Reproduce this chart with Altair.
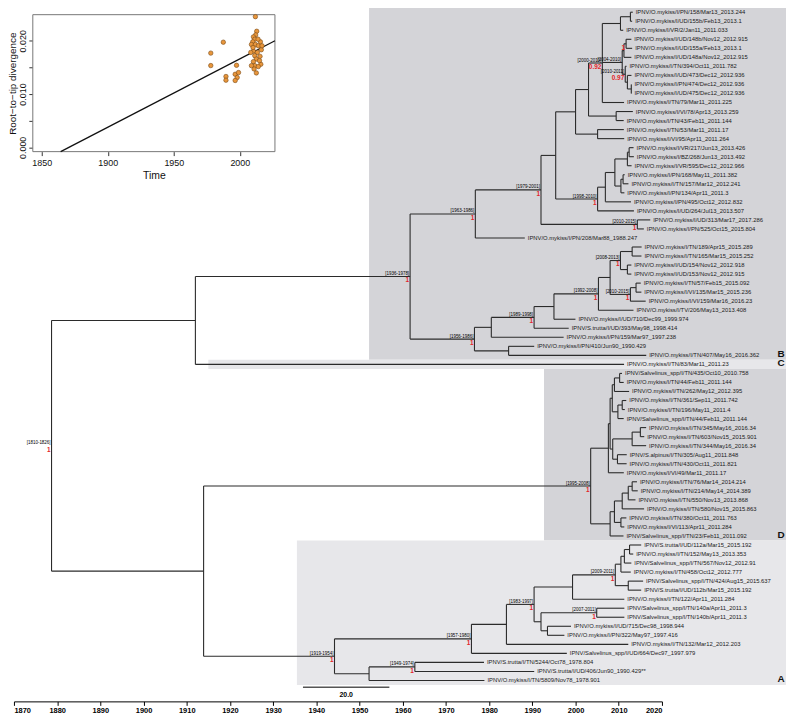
import altair as alt
import pandas as pd

# ------------------------------------------------------------------ data
tip_labels = [
    "IPNV/O.mykiss/I/PN/158/Mar13_2013.244",
    "IPNV/O.mykiss/I/UD/155b/Feb13_2013.1",
    "IPNV/O.mykiss/I/VR/2/Jan11_2011.033",
    "IPNV/O.mykiss/I/UD/148b/Nov12_2012.915",
    "IPNV/O.mykiss/I/UD/155a/Feb13_2013.1",
    "IPNV/O.mykiss/I/UD/148a/Nov12_2012.915",
    "IPNV/O.mykiss/I/TN/394/Oct11_2011.782",
    "IPNV/O.mykiss/I/UD/473/Dec12_2012.936",
    "IPNV/O.mykiss/I/PN/474/Dec12_2012.936",
    "IPNV/O.mykiss/I/UD/475/Dec12_2012.936",
    "IPNV/O.mykiss/I/TN/79/Mar11_2011.225",
    "IPNV/O.mykiss/I/VI/78/Apr13_2013.259",
    "IPNV/O.mykiss/I/TN/43/Feb11_2011.144",
    "IPNV/O.mykiss/I/TN/53/Mar11_2011.17",
    "IPNV/O.mykiss/I/VI/95/Apr11_2011.264",
    "IPNV/O.mykiss/I/VR/217/Jun13_2013.426",
    "IPNV/O.mykiss/I/BZ/268/Jun13_2013.492",
    "IPNV/O.mykiss/I/VR/595/Dec12_2012.966",
    "IPNV/O.mykiss/I/PN/168/May11_2011.382",
    "IPNV/O.mykiss/I/TN/157/Mar12_2012.241",
    "IPNV/O.mykiss/I/PN/134/Apr11_2011.3",
    "IPNV/O.mykiss/I/PN/495/Oct12_2012.832",
    "IPNV/O.mykiss/I/UD/264/Jul13_2013.507",
    "IPNV/O.mykiss/I/UD/313/Mar17_2017.286",
    "IPNV/O.mykiss/I/PN/525/Oct15_2015.804",
    "IPNV/O.mykiss/I/PN/208/Mar88_1988.247",
    "IPNV/O.mykiss/I/TN/189/Apr15_2015.289",
    "IPNV/O.mykiss/I/TN/165/Mar15_2015.252",
    "IPNV/O.mykiss/I/UD/154/Nov12_2012.918",
    "IPNV/O.mykiss/I/UD/153/Nov12_2012.915",
    "IPNV/O.mykiss/I/TN/57/Feb15_2015.092",
    "IPNV/O.mykiss/I/VI/135/Mar15_2015.236",
    "IPNV/O.mykiss/I/VI/159/Mar16_2016.23",
    "IPNV/O.mykiss/I/TV/206/May13_2013.408",
    "IPNV/O.mykiss/I/UD/710/Dec99_1999.974",
    "IPNV/S.trutta/I/UD/393/May98_1998.414",
    "IPNV/O.mykiss/I/PN/159/Mar97_1997.238",
    "IPNV/O.mykiss/I/PN/410/Jun90_1990.429",
    "IPNV/O.mykiss/I/TN/407/May16_2016.362",
    "IPNV/O.mykiss/I/TN/83/Mar11_2011.23",
    "IPNV/Salvelinus_spp/I/TN/435/Oct10_2010.758",
    "IPNV/O.mykiss/I/TN/44/Feb11_2011.144",
    "IPNV/O.mykiss/I/TN/262/May12_2012.395",
    "IPNV/O.mykiss/I/TN/361/Sep11_2011.742",
    "IPNV/O.mykiss/I/TN/196/May11_2011.4",
    "IPNV/Salvelinus_spp/I/TN/44/Feb11_2011.144",
    "IPNV/O.mykiss/I/TN/345/May16_2016.34",
    "IPNV/O.mykiss/I/TN/603/Nov15_2015.901",
    "IPNV/O.mykiss/I/TN/344/May16_2016.34",
    "IPNV/S.alpinus/I/TN/305/Aug11_2011.848",
    "IPNV/O.mykiss/I/TN/430/Oct11_2011.821",
    "IPNV/O.mykiss/I/VI/49/Mar11_2011.17",
    "IPNV/O.mykiss/I/TN/76/Mar14_2014.214",
    "IPNV/O.mykiss/I/TN/214/May14_2014.389",
    "IPNV/O.mykiss/I/TN/550/Nov13_2013.868",
    "IPNV/O.mykiss/I/TN/580/Nov15_2015.863",
    "IPNV/O.mykiss/I/TN/380/Oct11_2011.763",
    "IPNV/O.mykiss/I/VI/113/Apr11_2011.284",
    "IPNV/Salvelinus_spp/I/TN/23/Feb11_2011.092",
    "IPNV/S.trutta/I/UD/112a/Mar15_2015.192",
    "IPNV/O.mykiss/I/TN/152/May13_2013.353",
    "IPNV/Salvelinus_spp/I/TN/567/Nov12_2012.91",
    "IPNV/O.mykiss/I/TN/458/Oct12_2012.777",
    "IPNV/Salvelinus_spp/I/TN/424/Aug15_2015.637",
    "IPNV/S.trutta/I/UD/112b/Mar15_2015.192",
    "IPNV/O.mykiss/I/TN/122/Apr11_2011.284",
    "IPNV/Salvelinus_spp/I/TN/140a/Apr11_2011.3",
    "IPNV/Salvelinus_spp/I/TN/140b/Apr11_2011.3",
    "IPNV/O.mykiss/I/UD/715/Dec98_1998.944",
    "IPNV/O.mykiss/I/PN/322/May97_1997.416",
    "IPNV/O.mykiss/I/TN/132/Mar12_2012.203",
    "IPNV/Salvelinus_spp/I/UD/664/Dec97_1997.979",
    "IPNV/S.trutta/I/TN/5244/Oct78_1978.804",
    "IPNV/S.trutta/I/UD/406/Jun90_1990.429**",
    "IPNV/O.mykiss/I/TN/5809/Nov78_1978.901",
]

# parent node of every tip (same order as tip_labels)
tip_parents = [
    "q12", "q12", "Q", "t45", "t45", "T", "U", "u810", "u910", "u910",
    "P", "w1213", "w1213", "w1415", "w1415",
    "r4", "r4", "r3", "r6", "r6", "r5", "r1", "N98", "N10a", "N10a", "B1",
    "b27", "b27", "b29", "b29", "b31", "b31", "N10b", "N92", "bc", "N89", "ba",
    "bd", "bd", "BC",
    "d41", "d41", "d1b1", "d44", "d44", "d1b2", "d4748", "d4748", "d47",
    "d50", "d50", "D1",
    "d53a", "d53a", "d5354", "d53", "d57", "d57", "D2",
    "a6061", "a6061", "a6062", "a6063", "a6465", "a6465", "A1c",
    "a6768", "a6768", "a6970", "a6970", "A1a", "A1", "N49", "N49", "A2",
]

# internal nodes: id, parent, estimated age (year)
node_ids = [
    "root", "BC", "B", "B1", "N79", "X", "Z", "Y", "P", "Q", "q12", "S",
    "T", "t45", "U", "u810", "u910", "w1213", "w1415",
    "N98", "r1", "r2", "r3", "r4", "r5", "r6", "N10a",
    "B2", "ba", "N89", "bc", "N92", "n0810", "N08", "b27", "b29", "N10b", "b31", "bd",
    "AD", "D", "D1", "D1a", "D1b", "d1b1", "d41", "d1b2", "d44", "D1c", "d47",
    "d4748", "d50", "D2", "D2a", "d53", "d5354", "d53a", "d57",
    "A", "A1", "A1a", "A1b", "A1c", "A1e", "a6063", "a6062", "a6061", "a6465",
    "A1d", "a6768", "a6970", "A2", "N49",
]
node_parents = [
    None, "root", "BC", "B", "B1", "N79", "X", "Z", "Y", "P", "Q", "P",
    "S", "T", "S", "U", "u810", "Y", "Z",
    "X", "N98", "r1", "r2", "r3", "r2", "r5", "N79",
    "B", "B2", "ba", "N89", "bc", "N92", "n0810", "N08", "N08", "n0810", "N10b", "B2",
    "root", "AD", "D", "D1", "D1a", "D1b", "d1b1", "D1b", "d1b2", "D1a", "D1c",
    "d47", "D1c", "D", "D2", "D2a", "d53", "d5354", "D2a",
    "AD", "A", "A1", "A1a", "A1b", "A1c", "A1e", "a6063", "a6062", "A1e",
    "A1b", "A1d", "A1d", "A", "A2",
]
node_years = [
    1878.7, 1912.0, 1961.7, 1976.8, 1992.0, 1995.4, 2000.0, 2003.0, 2006.2,
    2010.4, 2012.7, 2010.8, 2011.2, 2011.7, 2011.5, 2012.0, 2012.9, 2009.4, 2005.1,
    2005.1, 2006.9, 2009.1, 2012.0, 2012.4, 2010.5, 2011.0, 2014.3,
    1976.6, 1980.5, 1990.4, 1995.0, 2005.3, 2008.0, 2010.4, 2013.1, 2012.0, 2012.7,
    2014.0, 1984.5,
    1913.9, 2003.5, 2007.6, 2008.0, 2008.5, 2009.0, 2010.2, 2009.8, 2010.8, 2008.6,
    2013.1, 2015.0, 2009.7, 2008.0, 2009.0, 2010.8, 2012.2, 2013.1, 2010.5,
    1944.2, 1975.9, 1984.0, 1990.4, 1999.3, 2009.2, 2010.5, 2011.3, 2012.5, 2012.2,
    1992.0, 2004.9, 1993.5, 1952.2, 1962.8,
]
node_intervals = {
    "root": "[1810-1826]", "B": "[1936-1978]", "B1": "[1963-1986]",
    "N79": "[1979-2001]", "P": "[2000-2010]", "S": "[2004-2010]",
    "U": "[2010-2011]", "N98": "[1998-2010]", "N10a": "[2010-2015]",
    "B2": "[1956-1986]", "N89": "[1989-1998]", "N92": "[1992-2008]",
    "N08": "[2008-2013]", "N10b": "[2010-2015]", "D": "[1995-2008]",
    "A": "[1919-1954]", "A1": "[1957-1980]", "A1b": "[1983-1997]",
    "A1e": "[2009-2011]", "a6768": "[2007-2011]", "N49": "[1949-1974]",
}
node_support = {
    "root": "1", "B": "1", "B1": "1", "N79": "1", "P": "0.92", "t45": "1",
    "U": "0.97", "N98": "1", "N10a": "1", "B2": "1", "N89": "1", "N92": "1",
    "N08": "1", "N10b": "1", "D": "1", "A": "1", "A1": "1", "A1b": "1",
    "A1e": "1", "a6768": "1", "N49": "1",
}

clade_names = ["B", "C", "D", "A"]
clade_start_year = [1952.2, 1915.0, 1992.7, 1935.5]
clade_first_tip = [1, 40, 41, 60]
clade_last_tip = [39, 40, 59, 75]
clade_fill = ["#d4d4d8", "#e7e7ea", "#d4d4d8", "#e7e7ea"]

axis_years = list(range(1870, 2021, 10))
scale_bar_start = [1936.9]
scale_bar_length = [20.0]

# root-to-tip regression inset
inset_years = [
    1978.0, 1978.0, 1987.5, 1989.5, 1989.5, 1997.5, 1996.5, 1999.0, 1998.0, 1996.5,
    2011.8, 2012.8, 2012.0, 2010.3, 2011.3, 2009.8, 2015.6, 2008.8, 2011.8, 2014.0,
    2016.3, 2010.3, 2013.3, 2011.3, 2015.3, 2012.5, 2010.3, 2015.9, 2011.3, 2014.0,
    2010.8, 2012.5, 2008.8, 2010.0, 2013.8, 2016.8, 2008.3, 2014.9,
]
inset_div = [
    0.01769, 0.01535, 0.01974, 0.01330, 0.01261, 0.01540, 0.01372, 0.01404, 0.01311, 0.01255,
    0.02453, 0.02179, 0.02111, 0.02074, 0.02030, 0.01981, 0.01981, 0.01931, 0.01931, 0.01907,
    0.01832, 0.01806, 0.01782, 0.01721, 0.01708, 0.01657, 0.01609, 0.01559, 0.01534, 0.01516,
    0.01471, 0.01397, 0.01534, 0.01875, 0.02030, 0.01907, 0.01782, 0.01628,
]
fit_years = [1864.3, 2026.6]
fit_div = [-0.0008, 0.0200]
inset_x_domain = [1843.2, 2026.6]
inset_y_domain = [-0.0008, 0.0249]

# ------------------------------------------------------------------ layout
tip_year = [float(s.rstrip("*").split("_")[-1]) for s in tip_labels]
year_of = dict(zip(node_ids, node_years))
children = {n: [] for n in node_ids}
for i, p in enumerate(tip_parents):
    children[p].append(("tip", i))
for n, p in zip(node_ids, node_parents):
    if p is not None:
        children[p].append(("node", n))

cache = {}


def pos(kind, key):
    if kind == "tip":
        return tip_year[key], float(key)
    if key in cache:
        return cache[key]
    ys_ = [pos(*c)[1] for c in children[key]]
    cache[key] = (year_of[key], (min(ys_) + max(ys_)) / 2.0)
    return cache[key]


hseg, vseg, ilab, slab = [], [], [], []
for n in node_ids:
    x, y = pos("node", n)
    cy = [pos(*c) for c in children[n]]
    vseg.append({"x": x, "y": min(c[1] for c in cy), "y2": max(c[1] for c in cy)})
    for cx, cyy in cy:
        hseg.append({"x": x, "x2": cx, "y": cyy})
    if n in node_intervals:
        ilab.append({"x": x, "y": y, "t": node_intervals[n]})
    if n in node_support:
        slab.append({"x": x, "y": y, "t": node_support[n]})

tips_df = pd.DataFrame({"x": tip_year, "y": list(range(len(tip_labels))), "t": tip_labels})
clade_df = pd.DataFrame({
    "x": clade_start_year, "x2": [2049.0] * 4,
    "y": [f - 1.5 for f in clade_first_tip], "y2": [l - 0.5 for l in clade_last_tip],
    "fill": clade_fill, "name": clade_names, "row": [l - 1 for l in clade_last_tip],
})

FONT = "Liberation Sans, Arial, sans-serif"
W, H = 784, 710
xs = alt.Scale(domain=[1870, 2020], range=[6, 659], nice=False, zero=False)
ys = alt.Scale(domain=[0, 74], range=[1.5, 674.9], nice=False, zero=False)

main_axis = alt.Axis(values=axis_years, format="d", grid=False, domainColor="#000",
                     tickColor="#000", tickSize=4, labelFontSize=7.5, labelFont=FONT,
                     labelFontWeight="bold", labelColor="#000", labelPadding=1,
                     offset=-14, title=None, orient="bottom")

rects = alt.Chart(clade_df).mark_rect().encode(
    x=alt.X("x:Q", scale=xs, axis=main_axis), x2="x2", y=alt.Y("y:Q", scale=ys, axis=None), y2="y2",
    fill=alt.Fill("fill:N", scale=None))

letters = alt.Chart(clade_df).mark_text(font=FONT, fontSize=10, fontWeight="bold",
                                        color="#111", align="center", dy=-1).encode(
    x=alt.datum(2047.6, scale=xs), y=alt.Y("row:Q", scale=ys), text="name:N")

hl = alt.Chart(pd.DataFrame(hseg)).mark_rule(color="#2b2b2b", strokeWidth=1.1).encode(
    x=alt.X("x:Q", scale=xs), x2="x2", y=alt.Y("y:Q", scale=ys))
vl = alt.Chart(pd.DataFrame(vseg)).mark_rule(color="#2b2b2b", strokeWidth=1.1).encode(
    x=alt.X("x:Q", scale=xs), y=alt.Y("y:Q", scale=ys), y2="y2")

tip_txt = alt.Chart(tips_df).mark_text(font=FONT, fontSize=5.9, color="#1a1a1a", align="left",
                                       baseline="middle", dx=3).encode(
    x=alt.X("x:Q", scale=xs), y=alt.Y("y:Q", scale=ys), text="t:N")
int_txt = alt.Chart(pd.DataFrame(ilab)).mark_text(font=FONT, fontSize=4.5, color="#000",
                                                  align="right", baseline="bottom", dx=-1, dy=-0.5).encode(
    x=alt.X("x:Q", scale=xs), y=alt.Y("y:Q", scale=ys), text="t:N")
sup_txt = alt.Chart(pd.DataFrame(slab)).mark_text(font=FONT, fontSize=6.5, fontWeight="bold",
                                                  color="#e3262b", align="right", baseline="top",
                                                  dx=-1, dy=1).encode(
    x=alt.X("x:Q", scale=xs), y=alt.Y("y:Q", scale=ys), text="t:N")

sb_df = pd.DataFrame({"x": scale_bar_start, "x2": [scale_bar_start[0] + scale_bar_length[0]],
                      "xm": [scale_bar_start[0] + scale_bar_length[0] / 2],
                      "t": [f"{scale_bar_length[0]:.1f}"]})
sbar = alt.Chart(sb_df).mark_rule(color="#555", strokeWidth=1.5).encode(
    x=alt.X("x:Q", scale=xs), x2="x2", y=alt.datum(74.75, scale=ys))
stxt = alt.Chart(sb_df).mark_text(font=FONT, fontSize=7, fontWeight="bold", color="#000").encode(
    x=alt.X("xm:Q", scale=xs), y=alt.datum(75.65, scale=ys), text="t:N")

main = alt.layer(rects, hl, vl, tip_txt, int_txt, sup_txt, letters, sbar, stxt)

# ------------------------------------------------------------------ inset
ixs = alt.Scale(domain=inset_x_domain, range=[25, 269], nice=False, zero=False)
iys = alt.Scale(domain=inset_y_domain, range=[142, 4], nice=False, zero=False)
box_df = pd.DataFrame({"x": [inset_x_domain[0]], "x2": [inset_x_domain[1]],
                       "y": [inset_y_domain[0]], "y2": [inset_y_domain[1]]})
ix_axis = alt.Axis(values=[1850, 1900, 1950, 2000], format="d", grid=False, domain=False,
                   tickColor="#333", tickSize=4, labelFontSize=9, labelFont="Liberation Sans",
                   labelColor="#111", labelPadding=3, title="Time", titleFontSize=10.5,
                   titleFont="Liberation Sans", titleFontWeight="normal", titleColor="#111",
                   titlePadding=3, offset=-568, orient="bottom")
iy_axis = alt.Axis(values=[0, 0.005, 0.01, 0.015, 0.02],
                   labelExpr="round(datum.value*1000) % 10 == 0 ? format(datum.value, '.3f') : ''",
                   grid=False, domain=False, tickColor="#333", tickSize=4, labelFontSize=9,
                   labelFont="Liberation Sans", labelColor="#111", labelAngle=270,
                   labelAlign="center", labelBaseline="bottom", labelPadding=1,
                   title="Root\u2212to\u2212tip divergence", titleFontSize=10,
                   titleFont="Liberation Sans", titleFontWeight="normal", titleColor="#111",
                   titlePadding=1, offset=-25, orient="left")

box = alt.Chart(box_df).mark_rect(fill="white", stroke="#777", strokeWidth=1).encode(
    x=alt.X("x:Q", scale=ixs, axis=ix_axis), x2="x2",
    y=alt.Y("y:Q", scale=iys, axis=iy_axis), y2="y2")
fit = alt.Chart(pd.DataFrame({"x": fit_years, "y": fit_div})).mark_line(
    color="#111", strokeWidth=1.3).encode(x=alt.X("x:Q", scale=ixs), y=alt.Y("y:Q", scale=iys))
pts = alt.Chart(pd.DataFrame({"x": inset_years, "y": inset_div})).mark_point(
    filled=True, fill="#e8963c", stroke="#7a4a16", strokeWidth=0.6, size=20, opacity=1).encode(
    x=alt.X("x:Q", scale=ixs), y=alt.Y("y:Q", scale=iys))
inset = alt.layer(box, fit, pts)

chart = alt.layer(main, inset).resolve_scale(x="independent", y="independent").resolve_axis(
    x="independent", y="independent").properties(
    width=W, height=H, padding=0, autosize=alt.AutoSizeParams(type="none")
).configure_view(stroke=None)

chart.save("out.html", embed_options={"renderer": "svg", "actions": False})
